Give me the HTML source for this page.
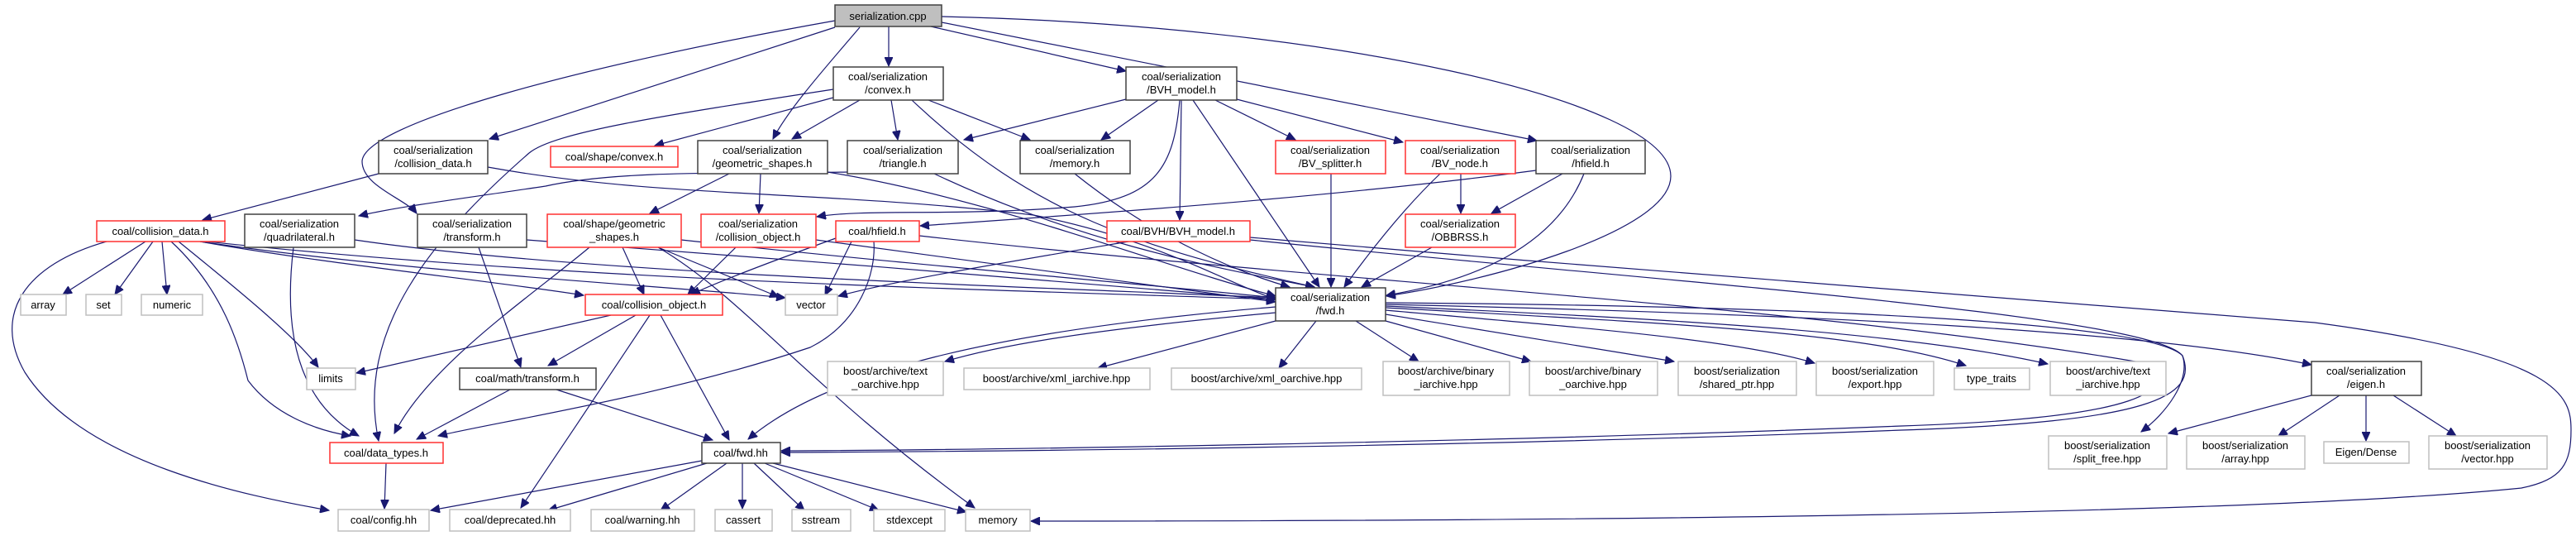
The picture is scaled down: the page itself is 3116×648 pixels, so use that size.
<!DOCTYPE html>
<html><head><meta charset="utf-8"><style>
html,body{margin:0;padding:0;background:#fff;}
svg{display:block;}
text{font-family:"Liberation Sans","DejaVu Sans",sans-serif;font-size:13px;fill:#000;text-anchor:middle;}
.e{fill:none;stroke:#191970;stroke-width:1.2;}
.b{fill:#fff;stroke:#404040;stroke-width:1.5;}
.r{fill:#fff;stroke:#ff3030;stroke-width:1.5;}
.g{fill:#fff;stroke:#bfbfbf;stroke-width:1.5;}
</style></head><body>
<svg width="3116" height="648" viewBox="0 0 3116 648" xmlns="http://www.w3.org/2000/svg">
<defs><marker id="a" markerUnits="userSpaceOnUse" markerWidth="12" markerHeight="10" refX="11" refY="5" orient="auto"><polygon points="0,0 11,5 0,10" fill="#191970" stroke="#191970"/></marker></defs>
<g marker-end="url(#a)">
<!-- serialization.cpp -->
<path class="e" d="M1010,33 L592,168"/>
<path class="e" d="M1010,25 C700,80 440,150 438,195 C438,225 490,240 504,258"/>
<path class="e" d="M1040,33 C1000,80 955,130 935,168"/>
<path class="e" d="M1075,32 L1075,80"/>
<path class="e" d="M1126,32 L1362,86"/>
<path class="e" d="M1139,27 L1859,170"/>
<path class="e" d="M1139,20 C1600,30 2021,120 2021,213 C2021,280 1800,340 1677,358"/>
<!-- ser/convex.h -->
<path class="e" d="M1008,118 L792,176"/>
<path class="e" d="M1040,121 L958,168"/>
<path class="e" d="M1078,121 L1086,169"/>
<path class="e" d="M1123,121 L1246,169"/>
<path class="e" d="M1103,121 C1250,260 1380,300 1590,347"/>
<path class="e" d="M1008,108 C800,140 670,160 640,185 C520,290 430,400 458,533"/>
<!-- ser/BVH_model.h -->
<path class="e" d="M1362,120 L1166,169"/>
<path class="e" d="M1401,121 L1332,169"/>
<path class="e" d="M1470,121 L1567,169"/>
<path class="e" d="M1496,120 L1697,172"/>
<path class="e" d="M1429,121 L1427,266"/>
<path class="e" d="M1443,121 L1596,347"/>
<path class="e" d="M1427,121 C1420,200 1400,240 1300,250 C1150,262 1050,252 988,262"/>
<!-- ser/collision_data.h -->
<path class="e" d="M458,210 L245,266"/>
<path class="e" d="M590,202 C800,240 1000,230 1250,260 C1400,290 1480,340 1543,362"/>
<!-- ser/geometric_shapes -->
<path class="e" d="M882,210 L786,258"/>
<path class="e" d="M920,210 L918,258"/>
<path class="e" d="M1001,208 C1200,240 1400,320 1543,358"/>
<!-- triangle -->
<path class="e" d="M1025,208 C900,210 750,205 660,225 C560,240 480,250 434,261"/>
<path class="e" d="M1130,210 C1300,290 1450,320 1590,347"/>
<path class="e" d="M1300,210 C1400,290 1500,330 1560,347"/>
<!-- BV_splitter, BV_node, hfield, OBBRSS -->
<path class="e" d="M1610,210 L1610,347"/>
<path class="e" d="M1767,210 L1767,258"/>
<path class="e" d="M1742,210 C1700,250 1660,300 1626,347"/>
<path class="e" d="M1890,210 L1804,258"/>
<path class="e" d="M1916,210 C1880,300 1780,340 1677,357"/>
<path class="e" d="M1858,206 C1600,240 1300,260 1113,273"/>
<path class="e" d="M1732,299 L1647,347"/>
<!-- coal/BVH/BVH_model.h -->
<path class="e" d="M1365,292 C1200,320 1080,340 1014,358"/>
<path class="e" d="M1512,287 C2000,330 2600,370 2800,390 C3100,430 3110,480 3110,520 C3110,560 3100,580 3050,590 C2700,625 1800,630 1247,630"/>
<path class="e" d="M1512,290 C2000,340 2600,380 2640,430 C2660,480 2600,510 2300,520 C1800,540 1200,546 945,547"/>
<!-- coal/hfield.h -->
<path class="e" d="M1011,288 C950,310 870,340 836,356"/>
<path class="e" d="M1030,292 L998,357"/>
<path class="e" d="M1057,292 C1060,330 1040,390 980,420 C800,480 600,510 530,527"/>
<path class="e" d="M1112,285 C1600,340 2200,370 2600,440 C2630,470 2600,505 2300,515 C1800,535 1200,544 945,545"/>
<!-- ser/collision_object.h -->
<path class="e" d="M890,299 L832,356"/>
<path class="e" d="M987,290 C1200,320 1400,345 1543,365"/>
<!-- shape/geometric_shapes -->
<path class="e" d="M713,299 C640,360 520,440 477,524"/>
<path class="e" d="M753,299 L779,356"/>
<path class="e" d="M796,299 L942,359"/>
<path class="e" d="M796,299 C900,360 980,470 1179,614"/>
<path class="e" d="M824,290 C1100,320 1350,340 1543,360"/>
<!-- quadrilateral -->
<path class="e" d="M355,299 C345,380 350,480 434,527"/>
<path class="e" d="M429,290 C700,330 1200,345 1543,360"/>
<!-- ser/transform.h -->
<path class="e" d="M579,299 L630,444"/>
<path class="e" d="M637,290 C900,310 1300,340 1543,362"/>
<!-- coal/collision_data.h -->
<path class="e" d="M176,292 L76,356"/>
<path class="e" d="M185,292 L139,356"/>
<path class="e" d="M196,292 L202,356"/>
<path class="e" d="M216,292 C300,360 360,410 385,444"/>
<path class="e" d="M207,292 C270,350 290,420 300,460 C330,500 380,520 424,527"/>
<path class="e" d="M129,292 C30,320 -10,380 30,450 C100,560 300,600 398,617"/>
<path class="e" d="M242,292 C400,320 600,340 706,357"/>
<path class="e" d="M242,292 C500,330 800,345 950,360"/>
<path class="e" d="M250,292 C700,340 1200,350 1543,362"/>
<!-- coal/collision_object.h -->
<path class="e" d="M739,381 L431,451"/>
<path class="e" d="M769,381 L663,442"/>
<path class="e" d="M786,381 C740,450 680,540 630,614"/>
<path class="e" d="M799,381 L882,532"/>
<!-- math/transform -->
<path class="e" d="M617,471 L504,531"/>
<path class="e" d="M673,471 L862,532"/>
<path class="e" d="M467,560 L465,615"/>
<!-- fwd.hh -->
<path class="e" d="M849,557 L521,617"/>
<path class="e" d="M855,560 L663,617"/>
<path class="e" d="M879,560 L799,617"/>
<path class="e" d="M898,560 L898,615"/>
<path class="e" d="M912,560 L973,617"/>
<path class="e" d="M925,560 L1063,617"/>
<path class="e" d="M935,560 L1169,619"/>
<!-- ser/fwd.h outgoing -->
<path class="e" d="M1543,371 C1200,400 1000,450 905,531"/>
<path class="e" d="M1543,378 C1300,400 1200,420 1143,437"/>
<path class="e" d="M1543,388 L1328,445"/>
<path class="e" d="M1592,388 L1547,445"/>
<path class="e" d="M1640,388 L1716,437"/>
<path class="e" d="M1676,388 L1852,437"/>
<path class="e" d="M1676,380 L2025,437"/>
<path class="e" d="M1676,375 C1900,395 2100,410 2195,439"/>
<path class="e" d="M1676,372 C2000,390 2250,400 2378,442"/>
<path class="e" d="M1676,370 C2000,385 2300,400 2477,440"/>
<path class="e" d="M1676,368 C2200,380 2600,400 2796,441"/>
<path class="e" d="M1676,366 C2200,370 2600,390 2640,430 C2650,460 2620,500 2590,522"/>
<!-- eigen.h -->
<path class="e" d="M2796,478 L2623,524"/>
<path class="e" d="M2830,478 L2756,527"/>
<path class="e" d="M2862,478 L2862,533"/>
<path class="e" d="M2895,478 L2971,527"/>
</g>
<!-- nodes -->
<rect x="1010" y="6" width="129" height="26" fill="#bfbfbf" stroke="#404040" stroke-width="1.5"/><text x="1074" y="24">serialization.cpp</text>
<rect class="b" x="1008" y="81" width="133" height="40"/><text x="1074" y="97">coal/serialization</text><text x="1074" y="113">/convex.h</text>
<rect class="b" x="1362" y="81" width="134" height="40"/><text x="1429" y="97">coal/serialization</text><text x="1429" y="113">/BVH_model.h</text>
<rect class="b" x="458" y="170" width="132" height="40"/><text x="524" y="186">coal/serialization</text><text x="524" y="202">/collision_data.h</text>
<rect class="r" x="666" y="177" width="154" height="25"/><text x="743" y="194">coal/shape/convex.h</text>
<rect class="b" x="844" y="170" width="157" height="40"/><text x="922" y="186">coal/serialization</text><text x="922" y="202">/geometric_shapes.h</text>
<rect class="b" x="1025" y="170" width="134" height="40"/><text x="1092" y="186">coal/serialization</text><text x="1092" y="202">/triangle.h</text>
<rect class="b" x="1234" y="170" width="133" height="40"/><text x="1300" y="186">coal/serialization</text><text x="1300" y="202">/memory.h</text>
<rect class="r" x="1543" y="170" width="133" height="40"/><text x="1609" y="186">coal/serialization</text><text x="1609" y="202">/BV_splitter.h</text>
<rect class="r" x="1700" y="170" width="133" height="40"/><text x="1766" y="186">coal/serialization</text><text x="1766" y="202">/BV_node.h</text>
<rect class="b" x="1858" y="170" width="132" height="40"/><text x="1924" y="186">coal/serialization</text><text x="1924" y="202">/hfield.h</text>
<rect class="r" x="117" y="267" width="155" height="25"/><text x="194" y="284">coal/collision_data.h</text>
<rect class="b" x="296" y="259" width="133" height="40"/><text x="362" y="275">coal/serialization</text><text x="362" y="291">/quadrilateral.h</text>
<rect class="b" x="505" y="259" width="132" height="40"/><text x="571" y="275">coal/serialization</text><text x="571" y="291">/transform.h</text>
<rect class="r" x="662" y="259" width="162" height="40"/><text x="743" y="275">coal/shape/geometric</text><text x="743" y="291">_shapes.h</text>
<rect class="r" x="848" y="259" width="139" height="40"/><text x="917" y="275">coal/serialization</text><text x="917" y="291">/collision_object.h</text>
<rect class="r" x="1011" y="267" width="101" height="25"/><text x="1061" y="284">coal/hfield.h</text>
<rect class="r" x="1339" y="267" width="173" height="25"/><text x="1425" y="284">coal/BVH/BVH_model.h</text>
<rect class="r" x="1700" y="259" width="133" height="40"/><text x="1766" y="275">coal/serialization</text><text x="1766" y="291">/OBBRSS.h</text>
<rect class="b" x="1543" y="348" width="133" height="40"/><text x="1609" y="364">coal/serialization</text><text x="1609" y="380">/fwd.h</text>
<rect class="g" x="25" y="356" width="55" height="25"/><text x="52" y="373">array</text>
<rect class="g" x="104" y="356" width="43" height="25"/><text x="125" y="373">set</text>
<rect class="g" x="171" y="356" width="74" height="25"/><text x="208" y="373">numeric</text>
<rect class="r" x="708" y="356" width="166" height="25"/><text x="791" y="373">coal/collision_object.h</text>
<rect class="g" x="950" y="356" width="63" height="25"/><text x="981" y="373">vector</text>
<rect class="g" x="371" y="445" width="59" height="26"/><text x="400" y="462">limits</text>
<rect class="b" x="556" y="445" width="165" height="26"/><text x="638" y="462">coal/math/transform.h</text>
<rect class="g" x="1001" y="437" width="140" height="41"/><text x="1071" y="453">boost/archive/text</text><text x="1071" y="469">_oarchive.hpp</text>
<rect class="g" x="1166" y="445" width="225" height="26"/><text x="1278" y="462">boost/archive/xml_iarchive.hpp</text>
<rect class="g" x="1417" y="445" width="230" height="26"/><text x="1532" y="462">boost/archive/xml_oarchive.hpp</text>
<rect class="g" x="1673" y="437" width="153" height="41"/><text x="1749" y="453">boost/archive/binary</text><text x="1749" y="469">_iarchive.hpp</text>
<rect class="g" x="1850" y="437" width="155" height="41"/><text x="1927" y="453">boost/archive/binary</text><text x="1927" y="469">_oarchive.hpp</text>
<rect class="g" x="2030" y="437" width="143" height="41"/><text x="2101" y="453">boost/serialization</text><text x="2101" y="469">/shared_ptr.hpp</text>
<rect class="g" x="2197" y="437" width="142" height="41"/><text x="2268" y="453">boost/serialization</text><text x="2268" y="469">/export.hpp</text>
<rect class="g" x="2364" y="445" width="91" height="26"/><text x="2409" y="462">type_traits</text>
<rect class="g" x="2480" y="437" width="140" height="41"/><text x="2550" y="453">boost/archive/text</text><text x="2550" y="469">_iarchive.hpp</text>
<rect class="b" x="2796" y="437" width="133" height="41"/><text x="2862" y="453">coal/serialization</text><text x="2862" y="469">/eigen.h</text>
<rect class="r" x="399" y="535" width="137" height="25"/><text x="467" y="552">coal/data_types.h</text>
<rect class="b" x="849" y="535" width="95" height="25"/><text x="896" y="552">coal/fwd.hh</text>
<rect class="g" x="2478" y="527" width="143" height="40"/><text x="2549" y="543">boost/serialization</text><text x="2549" y="559">/split_free.hpp</text>
<rect class="g" x="2645" y="527" width="143" height="40"/><text x="2716" y="543">boost/serialization</text><text x="2716" y="559">/array.hpp</text>
<rect class="g" x="2811" y="534" width="103" height="26"/><text x="2862" y="551">Eigen/Dense</text>
<rect class="g" x="2938" y="527" width="143" height="40"/><text x="3009" y="543">boost/serialization</text><text x="3009" y="559">/vector.hpp</text>
<rect class="g" x="409" y="616" width="110" height="26"/><text x="464" y="633">coal/config.hh</text>
<rect class="g" x="544" y="616" width="146" height="26"/><text x="617" y="633">coal/deprecated.hh</text>
<rect class="g" x="715" y="616" width="125" height="26"/><text x="777" y="633">coal/warning.hh</text>
<rect class="g" x="865" y="616" width="69" height="26"/><text x="899" y="633">cassert</text>
<rect class="g" x="958" y="616" width="71" height="26"/><text x="993" y="633">sstream</text>
<rect class="g" x="1057" y="616" width="86" height="26"/><text x="1100" y="633">stdexcept</text>
<rect class="g" x="1168" y="616" width="78" height="26"/><text x="1207" y="633">memory</text>
</svg>
</body></html>
